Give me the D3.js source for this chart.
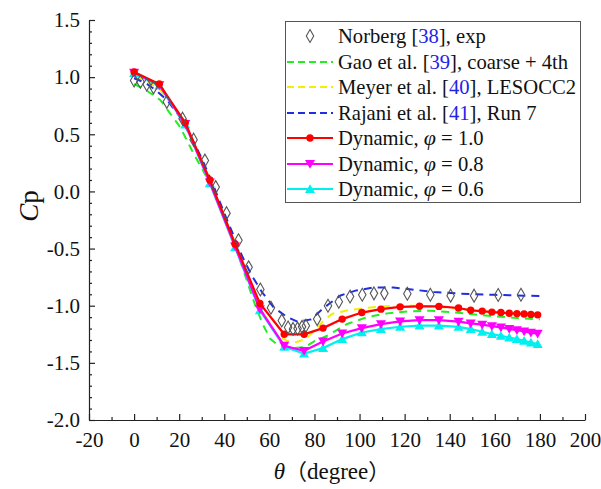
<!DOCTYPE html>
<html>
<head>
<meta charset="utf-8">
<script src="https://cdn.jsdelivr.net/npm/d3@7"></script>
<style>
  html, body { margin: 0; padding: 0; background: #fff; }
  svg { display: block; }
  text { font-family: "Liberation Serif", "Times New Roman", serif; fill: #111; }
</style>
</head>
<body>
<svg id="chart" width="601" height="489"></svg>
<script>
// Pressure coefficient around a circular cylinder, θ in degrees

// Norberg [38], experiment
const norbergTheta = [0, 2.8, 5.6, 8.6, 14.5, 21.5, 26.4, 31.4, 36.2, 41, 46.3, 50.8, 56, 60.7, 65.5, 68.3, 70.5, 72.5, 74.5, 76.2, 81.2, 86, 90.8, 95.8, 101.2, 106.4, 111, 121.2, 131.4, 140.4, 150.8, 161.5, 171.6];
const norbergCp    = [0.97, 0.96, 0.935, 0.91, 0.784, 0.637, 0.453, 0.27, 0.038, -0.19, -0.427, -0.664, -0.858, -1.018, -1.13, -1.19, -1.203, -1.2, -1.185, -1.175, -1.117, -1.0, -0.965, -0.92, -0.904, -0.892, -0.892, -0.895, -0.904, -0.912, -0.912, -0.906, -0.904];

// Gao et al. [39], coarse + 4th
const gaoTheta = [0, 5, 11.6, 20.4, 26.4, 33.8, 39.7, 44.1, 48.5, 53, 57, 60.4, 63.5, 67, 71, 76, 80, 85.6, 94.5, 103.4, 112.3, 121.2, 131.6, 140, 150, 160, 170, 180];
const gaoCp    = [0.94, 0.89, 0.8, 0.564, 0.33, 0.068, -0.196, -0.43, -0.69, -0.956, -1.16, -1.29, -1.34, -1.36, -1.37, -1.36, -1.31, -1.263, -1.16, -1.1, -1.067, -1.05, -1.044, -1.055, -1.075, -1.093, -1.108, -1.12];

// Meyer et al. [40], LESOCC2
const meyerTheta = [0, 5, 11, 20, 30, 40, 50, 57, 63, 68, 72, 76, 80, 84, 88, 95, 105, 115, 125, 135, 145, 155, 165, 180];
const meyerCp    = [1.0, 0.97, 0.9, 0.68, 0.28, -0.21, -0.72, -1.05, -1.25, -1.31, -1.32, -1.29, -1.22, -1.13, -1.07, -1.04, -1.015, -1.0, -1.0, -1.01, -1.03, -1.05, -1.065, -1.08];

// Rajani et al. [41], Run 7
const rajaniTheta = [0, 5, 10, 15, 20, 25, 30, 35, 40, 44, 48, 52.3, 56.7, 61.9, 67.9, 72.5, 78.5, 82.7, 86.4, 91.6, 98.2, 106.4, 115, 124, 133, 145, 160, 180];
const rajaniCp    = [0.99, 0.95, 0.88, 0.79, 0.66, 0.49, 0.29, 0.06, -0.19, -0.38, -0.57, -0.74, -0.88, -1.015, -1.1, -1.14, -1.12, -1.044, -0.985, -0.91, -0.868, -0.84, -0.84, -0.86, -0.88, -0.895, -0.905, -0.915];

// Dynamic model, shared θ stations
const dynTheta = [0, 11.2, 22.7, 33.6, 44.8, 55.8, 66.6, 75.4, 83.8, 92.3, 101, 109.5, 118, 126.6, 135.2, 143.9, 149.3, 154.4, 158.7, 162.7, 166.4, 169.8, 173, 176, 179];
const phi10Cp = [1.046, 0.94, 0.6, 0.1, -0.46, -0.98, -1.25, -1.25, -1.196, -1.117, -1.06, -1.03, -1.01, -1.005, -1.006, -1.02, -1.04, -1.047, -1.056, -1.06, -1.066, -1.069, -1.073, -1.076, -1.08];
const phi08Cp = [1.04, 0.93, 0.59, 0.08, -0.48, -1.03, -1.35, -1.395, -1.313, -1.243, -1.196, -1.161, -1.137, -1.126, -1.126, -1.14, -1.155, -1.165, -1.178, -1.19, -1.203, -1.213, -1.225, -1.235, -1.245];
const phi06Cp = [1.035, 0.925, 0.585, 0.07, -0.49, -1.04, -1.36, -1.418, -1.371, -1.292, -1.234, -1.205, -1.184, -1.175, -1.175, -1.185, -1.205, -1.228, -1.248, -1.263, -1.278, -1.292, -1.307, -1.322, -1.336];

// Axis ticks
const xTicks = [-20, 0, 20, 40, 60, 80, 100, 120, 140, 160, 180, 200];
const yTicks = [-2.0, -1.5, -1.0, -0.5, 0.0, 0.5, 1.0, 1.5];

const SERIF = "'Liberation Serif', 'Times New Roman', serif";
const svg = d3.select("#chart");
const x = d3.scaleLinear().domain([-20, 200]).range([89, 585]);
const y = d3.scaleLinear().domain([-2, 1.5]).range([420, 20]);

const zip = (a, b) => a.map((v, i) => [v, b[i]]);
const line = d3.line().x(d => x(d[0])).y(d => y(d[1]));
// plain hyphen for negative numbers
const fmtX = v => String(v);
const fmtY = v => v.toFixed(1);

// Axes: ticks point inward, minor ticks halfway between majors
const xMinor = d3.range(-10, 200, 20);
const yMinor = d3.range(-2.0, 1.5001, 0.1).filter(v => Math.abs(Math.round(v * 2) - v * 2) > 1e-6);

const xAxis = svg.append("g").attr("transform", "translate(0,420)");
xAxis.append("g").call(d3.axisBottom(x).tickValues(xMinor).tickSize(-3).tickFormat(""))
  .call(g => g.select(".domain").remove());
xAxis.append("g").call(d3.axisBottom(x).tickValues(xTicks).tickSizeInner(-6).tickSizeOuter(0).tickPadding(12).tickFormat(fmtX))
  .call(g => g.selectAll("text").attr("font-size", 21).style("font-family", SERIF).attr("fill", "#111"));

const yAxis = svg.append("g").attr("transform", "translate(89,0)");
yAxis.append("g").call(d3.axisLeft(y).tickValues(yMinor).tickSize(-3).tickFormat(""))
  .call(g => g.select(".domain").remove());
yAxis.append("g").call(d3.axisLeft(y).tickValues(yTicks).tickSizeInner(-6).tickSizeOuter(0).tickPadding(9).tickFormat(fmtY))
  .call(g => g.selectAll("text").attr("font-size", 21).style("font-family", SERIF).attr("fill", "#111"));

svg.selectAll(".domain, .tick line").attr("stroke", "#222").attr("stroke-width", 1.2);

// Axis titles
svg.append("text")
  .attr("transform", "translate(38,206) rotate(-90)")
  .attr("text-anchor", "middle")
  .attr("font-size", 27)
  .style("font-family", SERIF)
  .call(t => {
    t.append("tspan").attr("font-style", "italic").text("C");
    t.append("tspan").text("p");
  });

svg.append("text")
  .attr("x", 332).attr("y", 479)
  .attr("text-anchor", "middle")
  .attr("font-size", 23)
  .style("font-family", SERIF)
  .call(t => {
    t.append("tspan").attr("font-style", "italic").text("θ");
    t.append("tspan").style("font-family", "'Noto Sans CJK SC', sans-serif").attr("font-size", 22).text("（");
    t.append("tspan").text("degree");
    t.append("tspan").style("font-family", "'Noto Sans CJK SC', sans-serif").attr("font-size", 22).text("）");
  });

// Series styles
const dashed = [
  { th: gaoTheta, cp: gaoCp, color: "#22ee22" },
  { th: meyerTheta, cp: meyerCp, color: "#f2f000" },
  { th: rajaniTheta, cp: rajaniCp, color: "#1f2ee0" }
];
const plot = svg.append("g");

dashed.forEach(s => {
  plot.append("path")
    .datum(zip(s.th, s.cp))
    .attr("d", line)
    .attr("fill", "none")
    .attr("stroke", s.color)
    .attr("stroke-width", 2)
    .attr("stroke-dasharray", "8,6");
});

const tri = d3.symbol().type(d3.symbolTriangle).size(44);

const solid = [
  { cp: phi06Cp, color: "#00f0f0", marker: "up" },
  { cp: phi08Cp, color: "#ff00ff", marker: "down" },
  { cp: phi10Cp, color: "#ff0000", marker: "circle" }
];

function drawMarker(g, kind, cx, cy, color) {
  if (kind === "circle") {
    g.append("circle").attr("cx", cx).attr("cy", cy).attr("r", 3.7).attr("fill", color);
  } else if (kind === "up") {
    g.append("path").attr("d", tri()).attr("transform", `translate(${cx},${cy + 1})`).attr("fill", color);
  } else {
    g.append("path").attr("d", tri()).attr("transform", `translate(${cx},${cy - 1}) rotate(180)`).attr("fill", color);
  }
}

solid.forEach(s => {
  const pts = zip(dynTheta, s.cp);
  plot.append("path")
    .datum(pts)
    .attr("d", line)
    .attr("fill", "none")
    .attr("stroke", s.color)
    .attr("stroke-width", 2.2);
  const mg = plot.append("g");
  pts.forEach(p => drawMarker(mg, s.marker, x(p[0]), y(p[1]), s.color));
});

// Experimental points: hollow diamonds
const diamond = d3.symbol().type(d3.symbolDiamond).size(48);
plot.append("g").selectAll("path")
  .data(zip(norbergTheta, norbergCp))
  .join("path")
  .attr("d", diamond)
  .attr("transform", d => `translate(${x(d[0])},${y(d[1])})`)
  .attr("fill", "none")
  .attr("stroke", "#555")
  .attr("stroke-width", 1.1);

// Legend
const legend = svg.append("g");
legend.append("rect")
  .attr("x", 285.5).attr("y", 21.5).attr("width", 295).attr("height", 181)
  .attr("fill", "#fff").attr("stroke", "#555").attr("stroke-width", 1);

const rowY = [36, 62, 87, 113, 138, 164, 189];
const entries = [
  { kind: "diamond", parts: [["Norberg ["], ["38", "blue"], ["], exp"]] },
  { kind: "dash", color: "#22ee22", parts: [["Gao et al. ["], ["39", "blue"], ["], coarse + 4th"]] },
  { kind: "dash", color: "#f2f000", parts: [["Meyer et al. ["], ["40", "blue"], ["], LESOCC2"]] },
  { kind: "dash", color: "#1f2ee0", parts: [["Rajani et al. ["], ["41", "blue"], ["], Run 7"]] },
  { kind: "solid", color: "#ff0000", marker: "circle", parts: [["Dynamic, "], ["φ", "phi"], [" = 1.0"]] },
  { kind: "solid", color: "#ff00ff", marker: "down", parts: [["Dynamic, "], ["φ", "phi"], [" = 0.8"]] },
  { kind: "solid", color: "#00f0f0", marker: "up", parts: [["Dynamic, "], ["φ", "phi"], [" = 0.6"]] }
];

entries.forEach((e, i) => {
  const cy = rowY[i];
  if (e.kind === "diamond") {
    legend.append("path").attr("d", diamond)
      .attr("transform", `translate(310,${cy})`)
      .attr("fill", "none").attr("stroke", "#555").attr("stroke-width", 1.1);
  } else if (e.kind === "dash") {
    legend.append("line").attr("x1", 287).attr("x2", 333).attr("y1", cy).attr("y2", cy)
      .attr("stroke", e.color).attr("stroke-width", 2).attr("stroke-dasharray", "7,4");
  } else {
    legend.append("line").attr("x1", 287).attr("x2", 333).attr("y1", cy).attr("y2", cy)
      .attr("stroke", e.color).attr("stroke-width", 2);
    const mg = legend.append("g");
    drawMarker(mg, e.marker, 310, cy, e.color);
  }
  const t = legend.append("text").attr("x", 338).attr("y", cy + 7)
    .attr("font-size", 20.6).style("font-family", SERIF);
  e.parts.forEach(([str, style]) => {
    const sp = t.append("tspan").text(str);
    if (style === "blue") sp.attr("fill", "#2323e6");
    if (style === "phi") sp.attr("font-style", "italic").attr("font-size", 22);
  });
});
</script>
</body>
</html>
